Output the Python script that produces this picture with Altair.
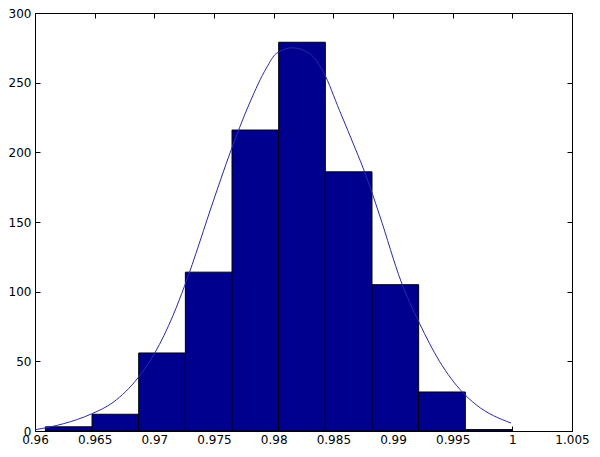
import altair as alt
import pandas as pd

# Histogram bins (edges) and counts
bin_left = [0.96087, 0.96478, 0.96869, 0.97260, 0.97651, 0.98042, 0.98433, 0.98824, 0.99215, 0.99606]
bin_right = [0.96478, 0.96869, 0.97260, 0.97651, 0.98042, 0.98433, 0.98824, 0.99215, 0.99606, 0.99997]
counts = [3, 12, 56, 114, 216, 279, 186, 105, 28, 1]

# Fitted curve points
curve_x = [0.9600, 0.96237, 0.96474, 0.96655, 0.96864, 0.97004, 0.97157, 0.97255, 0.97506,
           0.97632, 0.97799, 0.97939, 0.98023, 0.98159, 0.98299, 0.98418, 0.98552, 0.98692,
           0.98762, 0.98887, 0.99069, 0.99222, 0.99389, 0.99584, 0.99696, 0.99989]
curve_y = [0.9, 5.2, 12.3, 20.6, 38.3, 56, 83, 104.5, 168,
           199, 235.5, 260.5, 271, 275, 271, 257.4, 230, 201,
           186, 155, 107, 77.3, 50.1, 27.7, 18.9, 5.7]

x_ticks = [0.96, 0.965, 0.97, 0.975, 0.98, 0.985, 0.99, 0.995, 1.0, 1.005]
y_ticks = [0, 50, 100, 150, 200, 250, 300]

bars = pd.DataFrame({"x0": bin_left, "x1": bin_right, "count": counts})
curve = pd.DataFrame({"cx": curve_x, "cy": curve_y})

xscale = alt.Scale(domain=[0.96, 1.005], nice=False, zero=False)
yscale = alt.Scale(domain=[0, 300], nice=False)

font = "DejaVu Sans"

x_bottom = alt.Axis(orient="bottom", values=x_ticks, format=".3~f", offset=-5, tickSize=5,
                    domain=False, grid=False, title=None, labelPadding=3, labelFont=font,
                    labelFontSize=12, labelColor="black", tickColor="black",
                    labelFlush=False, labelOverlap=False, labelBound=False)
y_left = alt.Axis(orient="left", values=y_ticks, offset=-5, tickSize=5, domain=False,
                  grid=False, title=None, labelPadding=4, labelFont=font, labelFontSize=12,
                  labelColor="black", tickColor="black", labelOverlap=False)
x_top = alt.Axis(orient="top", values=x_ticks, offset=-5, tickSize=5, domain=False,
                 grid=False, title=None, labels=False, tickColor="black")
y_right = alt.Axis(orient="right", values=y_ticks, offset=-5, tickSize=5, domain=False,
                   grid=False, title=None, labels=False, tickColor="black")

bar_layer = alt.Chart(bars).mark_bar(color="#00008F", stroke="black", strokeWidth=1).encode(
    x=alt.X("x0:Q", scale=xscale, axis=x_bottom),
    x2="x1:Q",
    y=alt.Y("count:Q", scale=yscale, axis=y_left),
    y2=alt.datum(0),
)

line_layer = alt.Chart(curve).mark_line(color="#2a2aa8", strokeWidth=1, interpolate="monotone").encode(
    x=alt.X("cx:Q", scale=xscale, axis=x_top),
    y=alt.Y("cy:Q", scale=yscale, axis=y_right),
)

chart = alt.layer(bar_layer, line_layer).resolve_axis(x="independent", y="independent").properties(
    width=537,
    height=418,
    padding={"left": 27, "top": 5, "right": 20, "bottom": 18},
    autosize=alt.AutoSizeParams(type="none"),
    background="white",
).configure_view(stroke="black", strokeWidth=1)

chart.save("out.html", embed_options={"renderer": "svg", "actions": False})
